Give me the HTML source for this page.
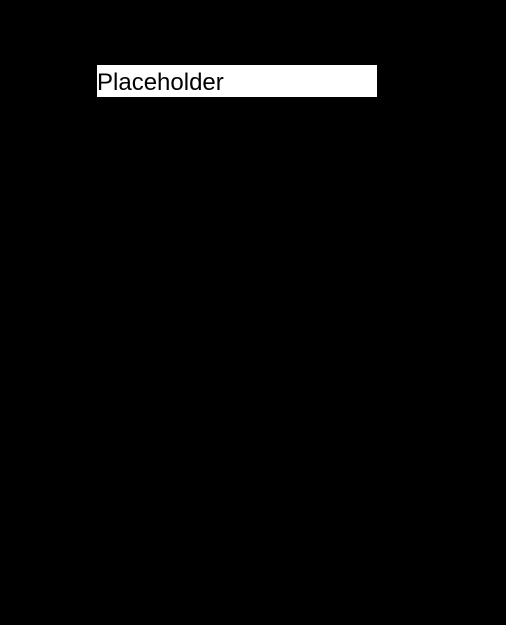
<!DOCTYPE html>
<html><head><style>
html,body{margin:0;padding:0;background:#000;width:506px;height:625px;overflow:hidden}
.b{position:absolute;left:97px;top:65px;width:280px;height:32px;background:#fff;font-family:"Liberation Sans",sans-serif;font-size:24px;line-height:36px;color:#000;white-space:nowrap}
</style></head><body>
<div class="b">Placeholder</div>
</body></html>
